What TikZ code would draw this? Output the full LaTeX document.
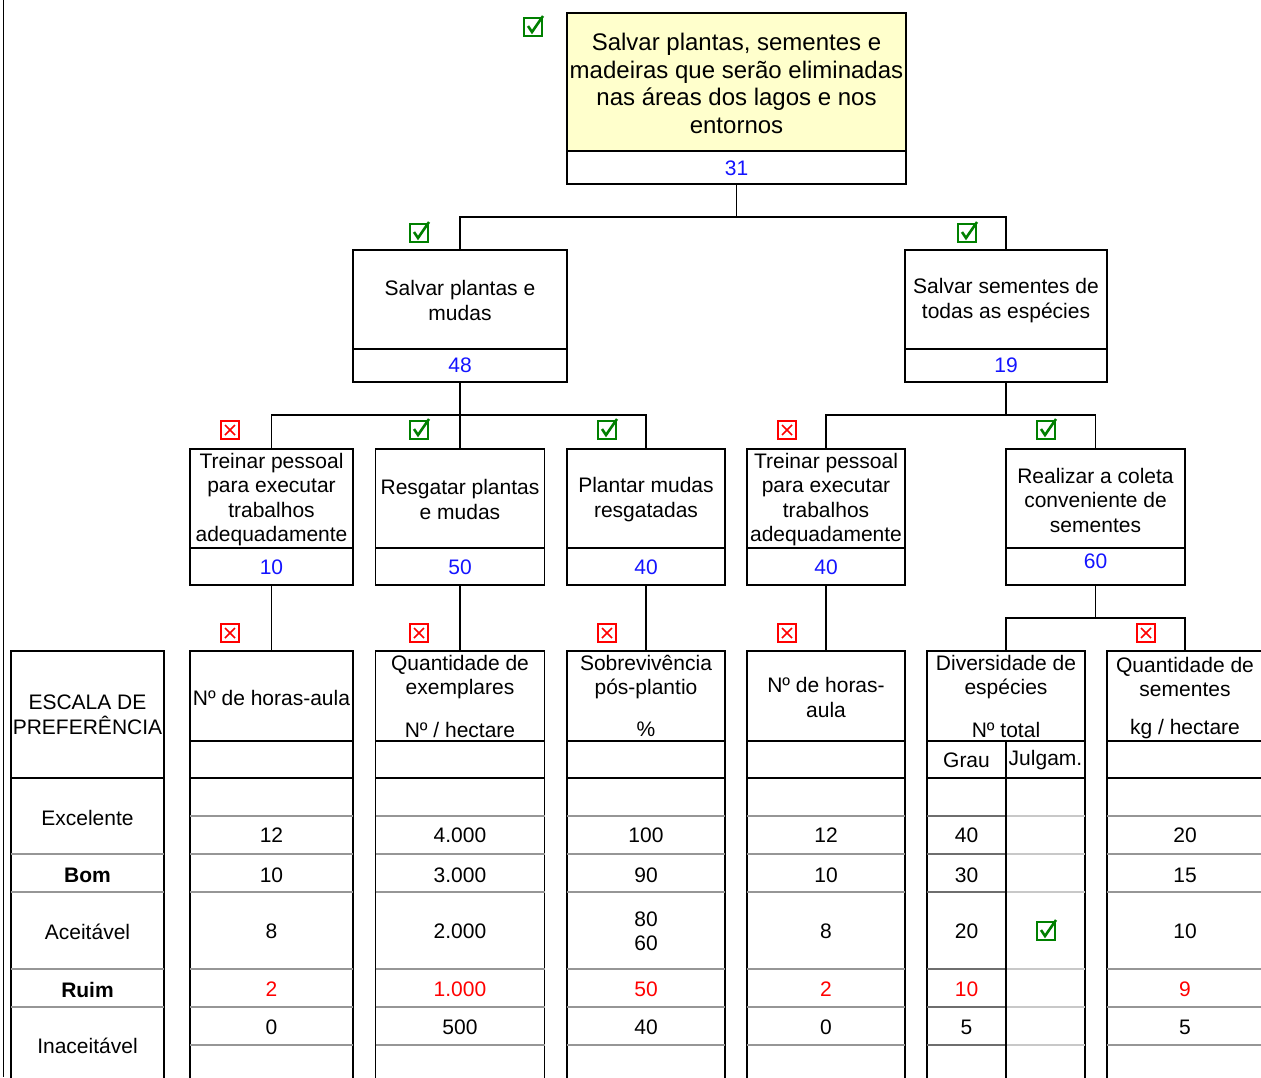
\documentclass[tikz,border=0pt]{standalone}
\usepackage{fontspec}
\setmainfont{Liberation Sans}
\definecolor{numblue}{RGB}{20,20,255}
\definecolor{badred}{RGB}{255,0,0}
\definecolor{okgreen}{RGB}{0,128,0}
\definecolor{goalfill}{RGB}{255,255,204}
\definecolor{rowgray}{RGB}{150,150,150}
\definecolor{rowdark}{RGB}{110,110,110}
\definecolor{rowlight}{RGB}{200,200,200}
\tikzset{
  box/.style={draw, rectangle, line width=1.15pt, inner sep=0pt, outer sep=0pt},
  lbl/.style={font=\fontsize{21}{24.5}\selectfont, align=center, inner sep=0pt, yshift=-0.5pt},
  biglbl/.style={font=\fontsize{24}{27.8}\selectfont, align=center, inner sep=0pt, yshift=-0.5pt},
  num/.style={lbl, text=numblue},
  bad/.style={lbl, text=badred},
  link/.style={line width=1.15pt},
  rule/.style={line width=1.15pt},
  rowline/.style={line width=2.2pt, draw=rowgray},
  chk/.pic={
    \draw[line width=2pt, draw=okgreen] (-9,-9) rectangle (9,9);
    \draw[line width=2.6pt, draw=okgreen] (-5,-1) -- (-1,5) -- (10,-11);
  },
  nogo/.pic={
    \draw[line width=2pt, draw=badred] (-9,-9) rectangle (9,9);
    \draw[line width=1.6pt, draw=badred] (-5,-5) -- (5,5) (-5,5) -- (5,-5);
  }
}
\begin{document}
\begin{tikzpicture}[x=1pt,y=-1pt]
\useasboundingbox[fill=white] (0,0) rectangle (1261,1077);
\draw[line width=1pt] (3,0) -- (3,1077);

% ---------- objective tree ----------
\node[box, fill=goalfill, minimum width=339, minimum height=171] (g0) at (736.5,98.5) {};
\fill[white] (567.6,151) rectangle (905.4,183.4);
\draw[rule] (567,151) -- (906,151);
\draw[rule] (567,13) rectangle (906,184);
\node[biglbl] at (736.5,83) {Salvar plantas, sementes e\\madeiras que serão eliminadas\\nas áreas dos lagos e nos\\entornos};
\node[num] at (736.5,168) {31};
\pic at (533,27) {chk};

\node[box, minimum width=214, minimum height=132] (g1) at (460,316) {};
\draw[rule] (353,349) -- (567,349);
\node[lbl] at (460,300) {Salvar plantas e\\mudas};
\node[num] at (460,365) {48};
\pic at (419,233) {chk};

\node[box, minimum width=202, minimum height=132] (g2) at (1006,316) {};
\draw[rule] (905,349) -- (1107,349);
\node[lbl] at (1006,300) {Salvar sementes de\\todas as espécies};
\node[num] at (1006,365) {19};
\pic at (967,233) {chk};

\coordinate (j0) at (736.5,217);
\draw[link] (g0.south) -- (j0);
\draw[link] (g1.north) |- (j0) -| (g2.north);

% third level
\node[box, minimum width=163, minimum height=136] (a) at (271.5,517) {};
\draw[rule] (190,548) -- (353,548);
\node[lbl] at (271.5,499) {Treinar pessoal\\para executar\\trabalhos\\adequadamente};
\node[num] at (271.5,567) {10};
\pic at (230,430) {nogo};

\node[box, minimum width=169, minimum height=136] (b) at (460,517) {};
\draw[rule] (375.5,548) -- (544.5,548);
\node[lbl] at (460,499) {Resgatar plantas\\e mudas};
\node[num] at (460,567) {50};
\pic at (419,430) {chk};

\node[box, minimum width=158, minimum height=136] (c) at (646,517) {};
\draw[rule] (567,548) -- (725,548);
\node[lbl] at (646,499) {Plantar mudas\\resgatadas};
\node[num] at (646,567) {40};
\pic at (607,430) {chk};

\node[box, minimum width=158, minimum height=136] (d) at (826,517) {};
\draw[rule] (747,548) -- (905,548);
\node[lbl] at (826,499) {Treinar pessoal\\para executar\\trabalhos\\adequadamente};
\node[num] at (826,567) {40};
\pic at (787,430) {nogo};

\node[box, minimum width=179, minimum height=136] (e) at (1095.5,517) {};
\draw[rule] (1006,548) -- (1185,548);
\node[lbl] at (1095.5,499.5) {Realizar a coleta\\conveniente de\\sementes};
\node[num] at (1095.5,561) {60};
\pic at (1046,430) {chk};

\coordinate (j1) at (460,415);
\coordinate (j2) at (1006,415);
\draw[link] (g1.south) -- (b.north);
\draw[link] (a.north) |- (j1) -| (c.north);
\draw[link] (g2.south) -- (j2);
\draw[link] (d.north) |- (j2) -| (e.north);

% ---------- measurement table ----------
\node[box, minimum width=153, minimum height=127] (s0) at (87.5,714.5) {};
\node[box, minimum width=163, minimum height=90] (t1) at (271.5,696) {};
\node[box, minimum width=169, minimum height=90] (t2) at (460,696) {};
\node[box, minimum width=158, minimum height=90] (t3) at (646,696) {};
\node[box, minimum width=158, minimum height=90] (t4) at (826,696) {};
\node[box, minimum width=158, minimum height=90] (t5) at (1006,696) {};
\node[box, minimum width=156, minimum height=90] (t6) at (1185,696) {};

% scale column
\draw[rule] (11,778) -- (11,1090) (164,778) -- (164,1090);
\foreach \yy in {854,892,969,1007}
  \draw[rowline] (11,\yy) -- (164,\yy);

% data columns
\foreach \xa/\xb in {190/353, 375.5/544.5, 567/725, 747/905, 927/1085, 1107/1263} {
  \draw[rule] (\xa,741) -- (\xa,1090) (\xb,741) -- (\xb,1090);
  \draw[rule] (\xa,778) -- (\xb,778);
  \foreach \yy in {816,854,892,969,1007,1045}
    \draw[rowline] (\xa,\yy) -- (\xb,\yy);
}
% split of the species column
\foreach \yy in {816,854,892,969,1007,1045} {
  \draw[rowline, draw=rowdark] (927,\yy) -- (1006,\yy);
  \draw[rowline, draw=rowlight] (1006,\yy) -- (1085,\yy);
}
\draw[rule] (1006,741) -- (1006,1090);

\draw[link] (a.south) -- (t1.north);
\draw[link] (b.south) -- (t2.north);
\draw[link] (c.south) -- (t3.north);
\draw[link] (d.south) -- (t4.north);
\coordinate (j3) at (1095.5,618);
\draw[link] (e.south) -- (j3);
\draw[link] (t5.north) |- (j3) -| (t6.north);

\pic at (230,633) {nogo};
\pic at (419,633) {nogo};
\pic at (607,633) {nogo};
\pic at (787,633) {nogo};
\pic at (1146,633) {nogo};

% headers
\node[lbl] at (87.5,714.5) {ESCALA DE\\PREFERÊNCIA};
\node[lbl] at (271.5,697) {Nº de horas-aula};
\node[lbl] at (460,676.5) {Quantidade de\\exemplares};
\node[lbl] at (460,729) {Nº / hectare};
\node[lbl] at (646,676.5) {Sobrevivência\\pós-plantio};
\node[lbl] at (646,729) {\%};
\node[lbl] at (826,697) {Nº de horas-\\aula};
\node[lbl] at (1006,676.5) {Diversidade de\\espécies};
\node[lbl] at (1006,729) {Nº total};
\node[lbl] at (966.5,760) {Grau};
\node[lbl] at (1045.5,760) {Julgam.};
\node[lbl] at (1185,676.5) {Quantidade de\\sementes};
\node[lbl] at (1185,729) {kg / hectare};

% scale labels
\node[lbl] at (87.5,817) {Excelente};
\node[lbl, font=\fontsize{21}{24.5}\selectfont\bfseries] at (87.5,875) {Bom};
\node[lbl] at (87.5,931) {Aceitável};
\node[lbl, font=\fontsize{21}{24.5}\selectfont\bfseries] at (87.5,989) {Ruim};
\node[lbl] at (87.5,1045) {Inaceitável};

% values
\node[lbl] at (271.5,835) {12};
\node[lbl] at (271.5,875) {10};
\node[lbl] at (271.5,931) {8};
\node[bad] at (271.5,989) {2};
\node[lbl] at (271.5,1027) {0};

\node[lbl] at (460,835) {4.000};
\node[lbl] at (460,875) {3.000};
\node[lbl] at (460,931) {2.000};
\node[bad] at (460,989) {1.000};
\node[lbl] at (460,1027) {500};

\node[lbl] at (646,835) {100};
\node[lbl] at (646,875) {90};
\node[lbl] at (646,931) {80\\60};
\node[bad] at (646,989) {50};
\node[lbl] at (646,1027) {40};

\node[lbl] at (826,835) {12};
\node[lbl] at (826,875) {10};
\node[lbl] at (826,931) {8};
\node[bad] at (826,989) {2};
\node[lbl] at (826,1027) {0};

\node[lbl] at (966.5,835) {40};
\node[lbl] at (966.5,875) {30};
\node[lbl] at (966.5,931) {20};
\node[bad] at (966.5,989) {10};
\node[lbl] at (966.5,1027) {5};
\pic at (1046,931) {chk};

\node[lbl] at (1185,835) {20};
\node[lbl] at (1185,875) {15};
\node[lbl] at (1185,931) {10};
\node[bad] at (1185,989) {9};
\node[lbl] at (1185,1027) {5};
\end{tikzpicture}
\end{document}
